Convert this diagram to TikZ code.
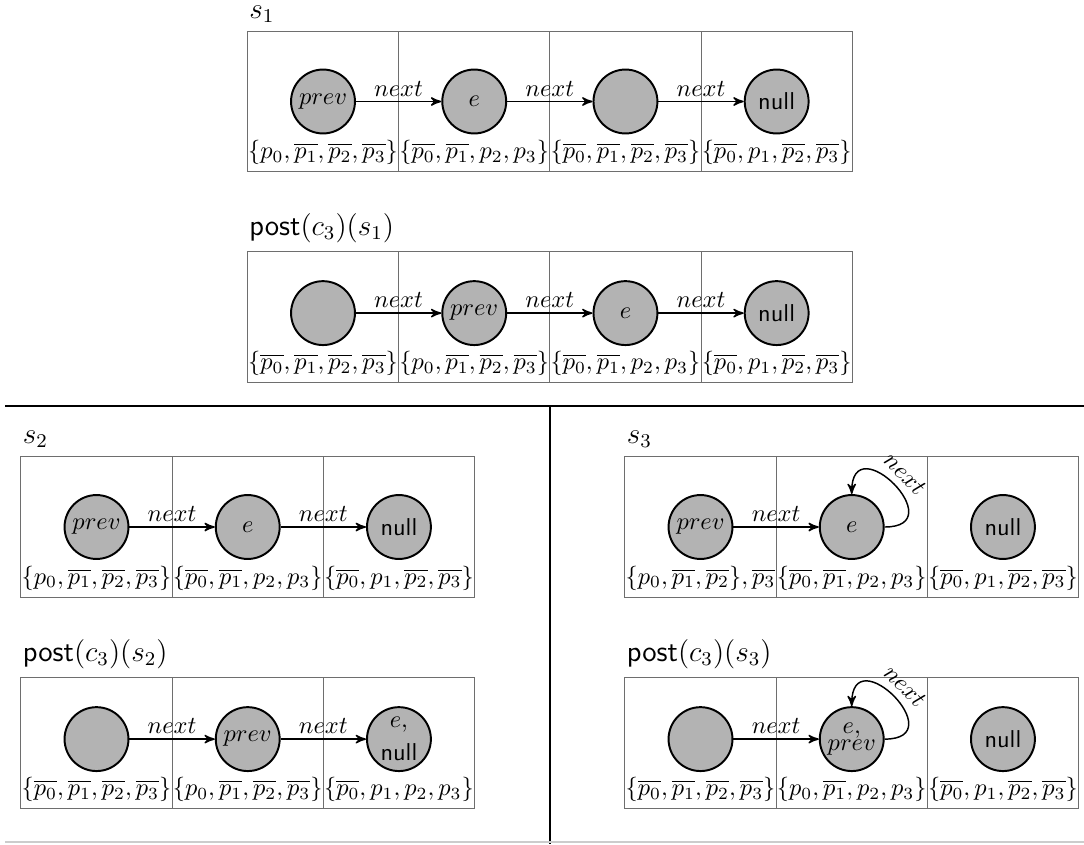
\documentclass[tikz,border=0pt]{standalone}
\usepackage{tikz}
\usetikzlibrary{arrows,positioning}
\usepackage{xcolor}
\definecolor{cellgray}{RGB}{110,110,110}
\definecolor{objgray}{RGB}{179,179,179}
\newcommand{\negp}[1]{\overline{p_{#1}}}

\begin{document}
\begin{tikzpicture}[->,>=stealth',semithick,x=0.41pt,y=-0.41pt]
  \tikzstyle{cell}=[draw=cellgray,thin,minimum width=62pt,outer sep=0pt,inner sep=0pt]
  \tikzstyle{srow}=[cell,minimum height=57.6pt]
  \tikzstyle{prow}=[cell,minimum height=53.7pt]
  \tikzstyle{obj}=[circle,draw=black,thick,fill=objgray,minimum size=26.2pt,inner sep=0pt,align=center]
  \tikzstyle{setlbl}=[anchor=south,inner xsep=0pt,inner ysep=2.5pt]
  \tikzstyle{statename}=[anchor=south west,inner xsep=0.5pt,inner ysep=1pt,yshift=2.3pt,font=\large]
  \tikzstyle{lbl}=[above,inner sep=1.8pt]
  \tikzstyle{looplbl}=[sloped,above,inner sep=2.8pt]

  \useasboundingbox (0,0) rectangle (1084,844);

  % s1
  \node[srow] (A1) at (323,101.5) {};
  \node[srow] (A2) [right=0pt of A1] {};
  \node[srow] (A3) [right=0pt of A2] {};
  \node[srow] (A4) [right=0pt of A3] {};
  \node[statename] at (A1.north west) {$s_1$};
  \node[obj] (a1) at (A1) {$prev$};
  \node[obj] (a2) at (A2) {$e$};
  \node[obj] (a3) at (A3) {};
  \node[obj] (a4) at (A4) {\textsf{null}};
  \node[setlbl] at (A1.south) {$\{p_0,\negp1,\negp2,\negp3\}$};
  \node[setlbl] at (A2.south) {$\{\negp0,\negp1,p_2,p_3\}$};
  \node[setlbl] at (A3.south) {$\{\negp0,\negp1,\negp2,\negp3\}$};
  \node[setlbl] at (A4.south) {$\{\negp0,p_1,\negp2,\negp3\}$};
  \path (a1) edge node[lbl] {$next$} (a2)
        (a2) edge node[lbl] {$next$} (a3)
        (a3) edge node[lbl] {$next$} (a4);

  % post(c3)(s1)
  \node[prow] (B1) at (323,317) {};
  \node[prow] (B2) [right=0pt of B1] {};
  \node[prow] (B3) [right=0pt of B2] {};
  \node[prow] (B4) [right=0pt of B3] {};
  \node[statename] at (B1.north west) {\textsf{post}$(c_3)(s_1)$};
  \node[obj] (b1) at ([yshift=1.6pt]B1) {};
  \node[obj] (b2) at ([yshift=1.6pt]B2) {$prev$};
  \node[obj] (b3) at ([yshift=1.6pt]B3) {$e$};
  \node[obj] (b4) at ([yshift=1.6pt]B4) {\textsf{null}};
  \node[setlbl] at (B1.south) {$\{\negp0,\negp1,\negp2,\negp3\}$};
  \node[setlbl] at (B2.south) {$\{p_0,\negp1,\negp2,\negp3\}$};
  \node[setlbl] at (B3.south) {$\{\negp0,\negp1,p_2,p_3\}$};
  \node[setlbl] at (B4.south) {$\{\negp0,p_1,\negp2,\negp3\}$};
  \path (b1) edge node[lbl] {$next$} (b2)
        (b2) edge node[lbl] {$next$} (b3)
        (b3) edge node[lbl] {$next$} (b4);

  % separators
  \draw[-,line width=0.9pt] (5,406) -- (1084,406);
  \draw[-,line width=0.8pt] (550,406) -- (550,844);
  \draw[-,black!20,line width=0.5pt] (5,842) -- (1084,842);

  % s2
  \node[srow] (C1) at (96.5,527) {};
  \node[srow] (C2) [right=0pt of C1] {};
  \node[srow] (C3) [right=0pt of C2] {};
  \node[statename] at (C1.north west) {$s_2$};
  \node[obj] (c1) at (C1) {$prev$};
  \node[obj] (c2) at (C2) {$e$};
  \node[obj] (c3) at (C3) {\textsf{null}};
  \node[setlbl] at (C1.south) {$\{p_0,\negp1,\negp2,\negp3\}$};
  \node[setlbl] at (C2.south) {$\{\negp0,\negp1,p_2,p_3\}$};
  \node[setlbl] at (C3.south) {$\{\negp0,p_1,\negp2,\negp3\}$};
  \path (c1) edge node[lbl] {$next$} (c2)
        (c2) edge node[lbl] {$next$} (c3);

  % post(c3)(s2)
  \node[prow] (D1) at (96.5,743) {};
  \node[prow] (D2) [right=0pt of D1] {};
  \node[prow] (D3) [right=0pt of D2] {};
  \node[statename] at (D1.north west) {\textsf{post}$(c_3)(s_2)$};
  \node[obj] (d1) at ([yshift=1.6pt]D1) {};
  \node[obj] (d2) at ([yshift=1.6pt]D2) {$prev$};
  \node[obj] (d3) at ([yshift=1.6pt]D3) {$e,$\\[1.5pt]\textsf{null}};
  \node[setlbl] at (D1.south) {$\{\negp0,\negp1,\negp2,\negp3\}$};
  \node[setlbl] at (D2.south) {$\{p_0,\negp1,\negp2,\negp3\}$};
  \node[setlbl] at (D3.south) {$\{\negp0,p_1,p_2,p_3\}$};
  \path (d1) edge node[lbl] {$next$} (d2)
        (d2) edge node[lbl] {$next$} (d3);

  % s3
  \node[srow] (E1) at (700.5,527) {};
  \node[srow] (E2) [right=0pt of E1] {};
  \node[srow] (E3) [right=0pt of E2] {};
  \node[statename] at (E1.north west) {$s_3$};
  \node[obj] (e1) at (E1) {$prev$};
  \node[obj] (e2) at (E2) {$e$};
  \node[obj] (e3) at (E3) {\textsf{null}};
  \node[setlbl] at (E1.south) {$\{p_0,\negp1,\negp2\},\negp3$};
  \node[setlbl] at (E2.south) {$\{\negp0,\negp1,p_2,p_3\}$};
  \node[setlbl] at (E3.south) {$\{\negp0,p_1,\negp2,\negp3\}$};
  \path (e1) edge node[lbl] {$next$} (e2)
        (e2.east) edge[out=0,in=90,looseness=3.8] node[looplbl] {$next$} (e2.north);

  % post(c3)(s3)
  \node[prow] (F1) at (700.5,743) {};
  \node[prow] (F2) [right=0pt of F1] {};
  \node[prow] (F3) [right=0pt of F2] {};
  \node[statename] at (F1.north west) {\textsf{post}$(c_3)(s_3)$};
  \node[obj] (f1) at ([yshift=1.6pt]F1) {};
  \node[obj] (f2) at ([yshift=1.6pt]F2) {$e,$\\[-5pt]$prev$};
  \node[obj] (f3) at ([yshift=1.6pt]F3) {\textsf{null}};
  \node[setlbl] at (F1.south) {$\{\negp0,\negp1,\negp2,\negp3\}$};
  \node[setlbl] at (F2.south) {$\{p_0,\negp1,p_2,p_3\}$};
  \node[setlbl] at (F3.south) {$\{\negp0,p_1,\negp2,\negp3\}$};
  \path (f1) edge node[lbl] {$next$} (f2)
        (f2.east) edge[out=0,in=90,looseness=3.8] node[looplbl] {$next$} (f2.north);
\end{tikzpicture}
\end{document}
